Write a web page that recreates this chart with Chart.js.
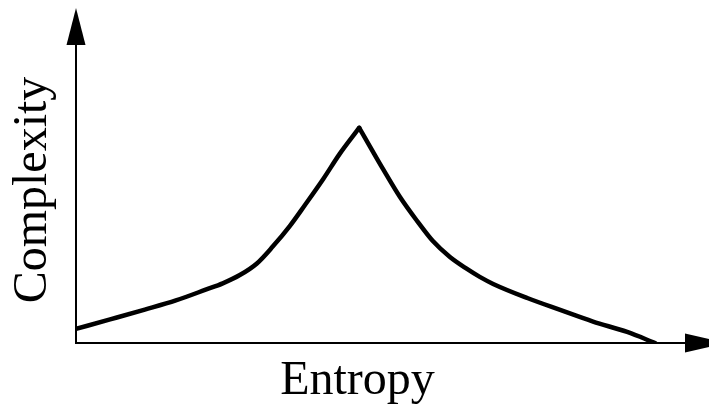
<!DOCTYPE html>
<html><head><meta charset="utf-8">
<script src="https://cdn.jsdelivr.net/npm/chart.js@4.4.0/dist/chart.umd.min.js"></script>
<style>html,body{margin:0;padding:0;background:#fff;overflow:hidden}#wrap{width:709px;height:408px;position:relative}</style>
</head><body><div id="wrap"><canvas id="c" width="709" height="408"></canvas></div>
<script>
// Rising branch (low entropy -> peak)
const leftEntropy    = [0, 5.6, 11.3, 16.4, 21.4, 24.1, 26.9, 29.7, 32.3, 35.1, 37.6, 40.6, 43.3, 46.5];
const leftComplexity = [4.6, 7.7, 10.9, 13.9, 17.5, 19.5, 22.2, 26.0, 31.5, 38.2, 45.1, 53.6, 61.8, 70.3];
// Falling branch (peak -> high entropy)
const rightEntropy    = [46.5, 48.3, 50.4, 53.2, 56.0, 58.6, 61.4, 64.2, 66.3, 68.5, 74.1, 79.5, 84.9, 90.5, 95.1];
const rightComplexity = [70.3, 64.1, 56.9, 47.7, 39.9, 33.3, 28.1, 24.2, 21.6, 19.3, 14.7, 10.8, 7.0, 3.6, 0];
const xTitle = 'Entropy';
const yTitle = 'Complexity';
const xRange = [0, 100];
const yRange = [0, 100];

const toPts = (xs, ys) => xs.map((v, i) => ({x: v, y: ys[i]}));
const FONT = "'Liberation Serif', 'Times New Roman', serif";

const arrows = {
  id: 'arrows',
  afterDraw(chart) {
    const {ctx, chartArea: a, scales: {x, y}} = chart;
    const x0 = x.getPixelForValue(xRange[0]);
    const y0 = y.getPixelForValue(yRange[0]);
    ctx.save();
    ctx.fillStyle = '#000';
    ctx.beginPath();
    ctx.moveTo(x0, a.top - 29);
    ctx.lineTo(x0 - 9.5, a.top + 8);
    ctx.lineTo(x0 + 9.5, a.top + 8);
    ctx.closePath();
    ctx.fill();
    ctx.beginPath();
    ctx.moveTo(a.right + 41, y0);
    ctx.lineTo(a.right, y0 - 9.5);
    ctx.lineTo(a.right, y0 + 9.5);
    ctx.closePath();
    ctx.fill();
    ctx.restore();
  }
};

const lineStyle = {
  borderColor: '#000', borderWidth: 4.5, pointRadius: 0, pointHoverRadius: 0,
  fill: false, cubicInterpolationMode: 'monotone', borderCapStyle: 'round', borderJoinStyle: 'round'
};

new Chart(document.getElementById('c'), {
  type: 'line',
  data: {
    datasets: [
      Object.assign({label: 'rise', data: toPts(leftEntropy, leftComplexity)}, lineStyle),
      Object.assign({label: 'fall', data: toPts(rightEntropy, rightComplexity)}, lineStyle)
    ]
  },
  options: {
    responsive: false,
    devicePixelRatio: 1,
    animation: false,
    events: [],
    layout: {padding: {top: 37, left: 30, right: 24, bottom: 0}},
    plugins: {
      legend: {display: false},
      tooltip: {enabled: false},
      title: {
        display: true, position: 'bottom', text: xTitle, color: '#000',
        font: {family: FONT, size: 48, weight: 'normal', lineHeight: 1},
        padding: {top: 14, bottom: 3}
      }
    },
    scales: {
      x: {
        type: 'linear', min: xRange[0], max: xRange[1],
        grid: {display: false, drawTicks: false, tickLength: 0},
        ticks: {display: false},
        border: {display: true, color: '#000', width: 2}
      },
      y: {
        type: 'linear', min: yRange[0], max: yRange[1],
        grid: {display: false, drawTicks: false, tickLength: 0},
        ticks: {display: false},
        border: {display: true, color: '#000', width: 2},
        title: {
          display: true, text: yTitle, color: '#000',
          font: {family: FONT, size: 48, weight: 'normal', lineHeight: 1},
          padding: {top: -21, bottom: 19}
        }
      }
    }
  },
  plugins: [arrows]
});
</script></body></html>
